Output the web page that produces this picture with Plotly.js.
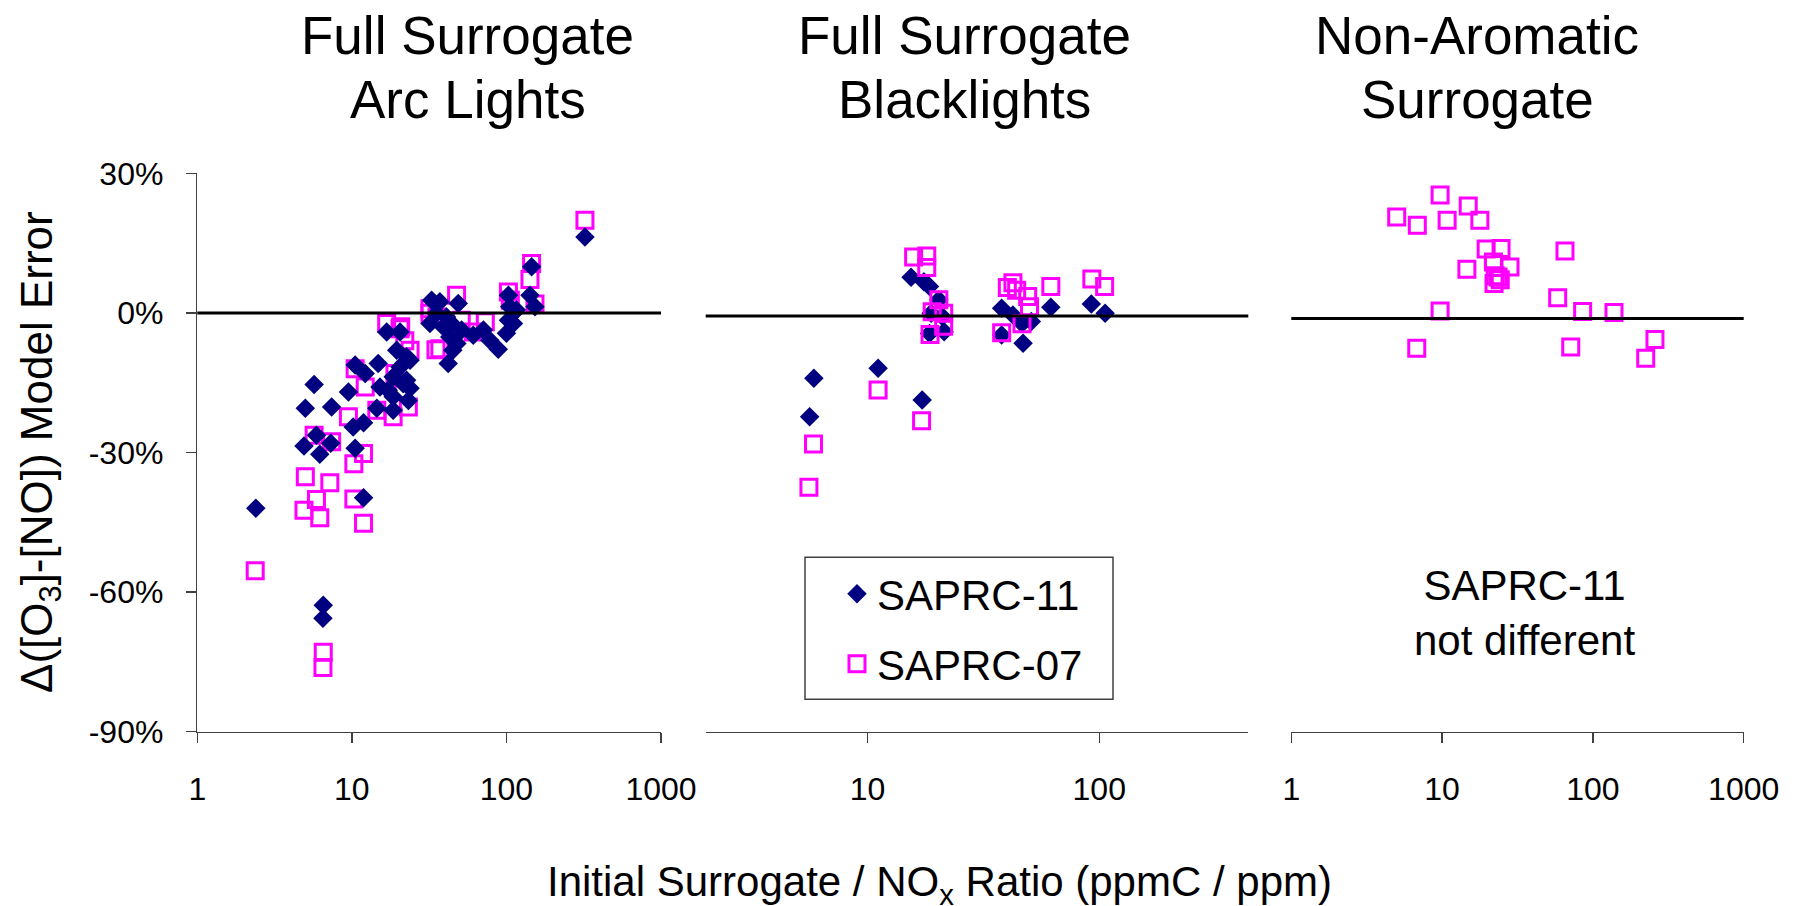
<!DOCTYPE html>
<html><head><meta charset="utf-8">
<script src="https://cdn.plot.ly/plotly-3.0.1.min.js"></script>
<style>html,body{margin:0;padding:0;background:#fff}#chart{width:1798px;height:906px}</style>
</head><body><div id="chart"></div>
<script>
const FONT = '"Liberation Sans", Arial, Helvetica, sans-serif';
const W = 1798, H = 906;

// ---- text ----
const panelTitles = [["Full Surrogate", "Arc Lights"], ["Full Surrogate", "Blacklights"], ["Non-Aromatic", "Surrogate"]];
const seriesNames = ["SAPRC-11", "SAPRC-07"];
const yAxisTitle = "Δ([O<sub>3</sub>]-[NO]) Model Error";
const xAxisTitle = "Initial Surrogate / NO<sub>x</sub> Ratio (ppmC / ppm)";
const panel3Note = "SAPRC-11<br>not different";
const xTickVals = [1, 10, 100, 1000];
const xTickText = ["1", "10", "100", "1000"];
const yTickVals = [-90, -60, -30, 0, 30];
const yTickText = ["-90%", "-60%", "-30%", "0%", "30%"];

// ---- data: Full Surrogate, Arc Lights ----
const arcS11X = [322, 145.5, 142, 153, 103, 105, 32.8, 37.1, 48.8, 32, 39, 43, 47.8, 42, 45, 16.8, 20.5, 14.8, 10.5, 12.2,
  19.5, 23.8, 18.5, 15.2, 22.6, 18.5, 23.2, 14.5, 18.5, 9.5, 5.7, 5.0, 7.4, 10.2, 11.9, 5.9, 4.9, 6.2, 7.3, 10.5,
  2.39, 11.9, 71, 78, 88.5, 61, 103, 111, 100, 6.53, 6.5, 22.6, 20.5, 21.5, 17.2, 23.8, 41, 35.3, 44.2, 51.3, 116, 111];
const arcS11Y = [16.3, 9.9, 3.8, 1.3, 3.8, 1.3, 2.7, 2.4, 2.0, -2.3, -3.0, -5.2, -6.6, -10.9, -8.0, -4.1, -4.1, -10.9, -11.2, -13.0,
  -8.0, -10.2, -13.7, -15.9, -14.5, -18.0, -18.8, -20.5, -20.9, -17.0, -15.4, -20.5, -20.2, -24.5, -23.6, -26.3, -28.6, -30.4, -28.0, -29.1,
  -42.0, -39.7, -3.7, -5.9, -7.8, -4.8, -1.6, 0, -4.4, -62.8, -65.6, -9.4, -11.6, -15.2, -16.6, -16.2, -0.9, -0.1, -2.3, -3.7, 0.6, -2.3];
const arcS07X = [322, 145.5, 142, 153, 103, 106, 47.6, 32, 35.5, 37.1, 73, 61, 16.8, 20.5, 23.8, 10.5, 12.2, 14.5, 23.2, 18.5,
  9.5, 5.7, 7.4, 11.9, 10.3, 5.0, 7.2, 5.9, 4.9, 6.2, 10.3, 11.9, 2.37, 6.53, 6.5, 20.7, 32, 51, 35, 22, 19, 21.5];
const arcS07Y = [19.9, 10.6, 7.2, 1.9, 4.5, 2.7, 3.8, 0.9, -0.9, -7.7, -1.9, -4.1, -2.3, -3.4, -8.0, -12.0, -15.9, -20.9, -20.2, -22.3,
  -22.3, -26.3, -27.7, -30.2, -32.4, -35.2, -36.5, -40.1, -42.4, -44.0, -40.0, -45.2, -55.4, -72.9, -76.2, -3.0, -0.1, -1.6, -7.9, -6.0, -13.0, -16.5];

// ---- data: Full Surrogate, Blacklights ----
const blkS11X = [5.86, 5.62, 11.1, 17.2, 15.4, 17.5, 18.5, 20.3, 18.8, 21, 18.5, 21.4, 37.9, 37.9, 42.4, 46.4, 50.9, 46.9, 61.8, 92.4, 106];
const blkS11Y = [-13.5, -21.8, -11.3, -18.2, 8.4, 7.4, 6.4, 3.5, 0.6, -0.1, -3.8, -3.4, 1.7, -4.1, 0.2, -1.6, -1.2, -5.9, 1.9, 2.6, 0.6];
const blkS07X = [5.58, 5.84, 11.1, 17.1, 15.8, 18, 18, 20.3, 19, 21.3, 21.3, 18.6, 42.4, 40.1, 44, 49.1, 50, 37.9, 46.4, 61.8, 92.9, 105.5];
const blkS07Y = [-37.1, -27.7, -16.0, -22.7, 12.8, 13.0, 10.5, 3.5, 0.9, 0.6, -2.2, -4.0, 7.2, 6.2, 5.6, 4.2, 2.0, -3.6, -1.7, 6.4, 8.0, 6.4];

// ---- data: Non-Aromatic Surrogate (SAPRC-07 only) ----
const naS07X = [5.0, 6.85, 9.7, 10.8, 14.9, 17.8, 19.6, 24.6, 14.6, 21.9, 28.2, 22.5, 23.5, 24.3, 22.1, 65.3, 58.4, 9.7, 6.79, 85.5, 138, 71.3, 258, 224];
const naS07Y = [22.1, 20.3, 26.9, 21.4, 24.5, 21.4, 15.1, 15.2, 10.7, 12.3, 11.2, 9.3, 9.0, 8.4, 7.6, 14.7, 4.5, 1.6, -6.5, 1.5, 1.3, -6.2, -4.6, -8.7];

// ---- styles ----
const S11 = {color: '#000080', symbol: 'diamond', size: 15, line: {width: 0}};
const S07 = {color: '#FF00FF', symbol: 'square-open', size: 16, line: {width: 3, color: '#FF00FF'}};
const AX = '#404040';

function tr(x, y, name, marker, xa, ya, show, leg) {
  return {type: 'scatter', mode: 'markers', x: x, y: y, name: name, marker: marker,
    xaxis: xa, yaxis: ya, showlegend: show, legend: leg, hoverinfo: 'skip', cliponaxis: false};
}
const data = [
  tr(arcS07X, arcS07Y, seriesNames[1], S07, 'x', 'y', true, 'legend2'),
  tr(arcS11X, arcS11Y, seriesNames[0], S11, 'x', 'y', true, 'legend'),
  tr(blkS11X, blkS11Y, seriesNames[0], S11, 'x2', 'y2', false, 'legend'),
  tr(blkS07X, blkS07Y, seriesNames[1], S07, 'x2', 'y2', false, 'legend2'),
  tr(naS07X, naS07Y, seriesNames[1], S07, 'x3', 'y3', false, 'legend2')
];

const px = v => v / W;
const py = v => 1 - v / H;
const yDom = [py(731.7), py(173.3)];

function xax(dom, lo, hi, anchor) {
  const keep = xTickVals.map((v, i) => i).filter(i => xTickVals[i] >= lo * 0.999 && xTickVals[i] <= hi * 1.001);
  return {type: 'log', domain: dom, range: [Math.log10(lo), Math.log10(hi)], anchor: anchor, showline: true, linecolor: AX, linewidth: 1.5,
    ticks: 'outside', ticklen: 10, tickwidth: 1.5, tickcolor: AX, tickmode: 'array',
    tickvals: keep.map(i => xTickVals[i]), ticktext: keep.map(i => xTickText[i]),
    tickfont: {family: FONT, size: 32, color: '#000'}, showgrid: false, zeroline: false, ticklabelstandoff: 18, fixedrange: true};
}
function hiddenY(range, anchor) {
  return {domain: yDom, range: range, anchor: anchor, visible: false, showticklabels: false, showgrid: false, zeroline: false, fixedrange: true};
}

const zeroLine = (xr, yr) => ({type: 'line', xref: xr + ' domain', yref: yr, x0: 0, x1: 1, y0: 0, y1: 0, line: {color: '#000', width: 3}});

function ann(text, x, y, size, extra) {
  return Object.assign({text: text, x: px(x), y: py(y), xref: 'paper', yref: 'paper', showarrow: false,
    xanchor: 'center', yanchor: 'middle', font: {family: FONT, size: size, color: '#000'}}, extra || {});
}
const titleX = [468, 964, 1477];
const annotations = [];
panelTitles.forEach((t, i) => {
  annotations.push(ann(t[0], titleX[i], 36, 53));
  annotations.push(ann(t[1], titleX[i], 99, 53));
});
annotations.push(ann(yAxisTitle, 40, 452, 44, {textangle: -90}));
annotations.push(ann(xAxisTitle, 939, 884, 42));
annotations.push(ann(panel3Note, 1524, 613, 42));

const legBase = {xanchor: 'left', yanchor: 'top', bgcolor: 'rgba(0,0,0,0)', borderwidth: 0,
  font: {family: FONT, size: 42, color: '#000'}};

const layout = {
  width: W, height: H, margin: {l: 0, r: 0, t: 0, b: 0}, paper_bgcolor: '#fff', plot_bgcolor: 'rgba(0,0,0,0)',
  font: {family: FONT, color: '#000'},
  xaxis: xax([px(197.3), px(661)], 1, 1000, 'y'),
  yaxis: {domain: yDom, range: [-90, 30], anchor: 'x', showline: true, linecolor: AX, linewidth: 1.5,
    ticks: 'outside', ticklen: 10, tickwidth: 1.5, tickcolor: AX, tickmode: 'array', tickvals: yTickVals, ticktext: yTickText,
    tickfont: {family: FONT, size: 32, color: '#000'}, showgrid: false, zeroline: false, ticklabelstandoff: 16, fixedrange: true},
  xaxis2: xax([px(705.7), px(1248.3)], 2, 440, 'y2'),
  yaxis2: hiddenY([-90, 30.9], 'x2'),
  xaxis3: xax([px(1291.3), px(1743.7)], 1, 1000, 'y3'),
  yaxis3: hiddenY([-90, 31.6], 'x3'),
  shapes: [zeroLine('x', 'y'), zeroLine('x2', 'y2'), zeroLine('x3', 'y3'),
    {type: 'rect', xref: 'paper', yref: 'paper', x0: px(805), x1: px(1113), y0: py(699.3), y1: py(557.3), line: {color: AX, width: 1.5}, fillcolor: 'rgba(0,0,0,0)'}],
  legend: Object.assign({x: px(837), y: py(560)}, legBase),
  legend2: Object.assign({x: px(837), y: py(630)}, legBase),
  annotations: annotations
};

Plotly.newPlot('chart', data, layout, {displayModeBar: false, staticPlot: true});
</script>
</body></html>
